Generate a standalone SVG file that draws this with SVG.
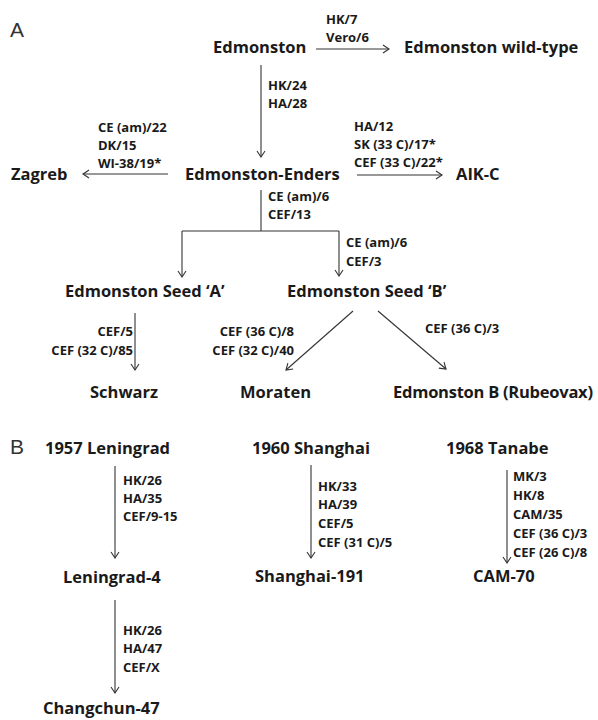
<svg xmlns="http://www.w3.org/2000/svg" width="598" height="720" viewBox="0 0 598 720">
<style>
.n{font-family:"Open Sans","Liberation Sans",sans-serif;font-weight:bold;font-size:16.5px;fill:#1a1a1a}
.l{font-family:"Open Sans","Liberation Sans",sans-serif;font-weight:bold;font-size:13px;fill:#1a1a1a}
.p{font-family:"Liberation Sans",Arial,sans-serif;font-size:21px;fill:#333}
.c{stroke:#333;stroke-width:1.1;fill:none}
.r{text-anchor:end}
</style>
<defs>
<marker id="ah" markerUnits="userSpaceOnUse" viewBox="-8 -5 10 10" markerWidth="10" markerHeight="10" refX="0" refY="0" orient="auto">
<path d="M-6,-4 L0,0 L-6,4" fill="none" stroke="#333" stroke-width="1.1"/>
</marker>
</defs>
<rect width="598" height="720" fill="#fff"/>
<text class="p" x="10" y="37">A</text>
<text class="p" x="10" y="454">B</text>

<g id="nodes">
<g id="edmonston"><text class="n" x="213" y="53">Edmonston</text></g>
<g id="edmonston-wt"><text class="n" x="404" y="53">Edmonston wild-type</text></g>
<g id="edmonston-enders"><text class="n" x="185" y="180">Edmonston-Enders</text></g>
<g id="zagreb"><text class="n" x="11" y="180">Zagreb</text></g>
<g id="aikc"><text class="n" x="456" y="180">AIK-C</text></g>
<g id="seedA"><text class="n" x="65" y="297">Edmonston Seed ‘A’</text></g>
<g id="seedB"><text class="n" x="287" y="297">Edmonston Seed ‘B’</text></g>
<g id="schwarz"><text class="n" x="90" y="398">Schwarz</text></g>
<g id="moraten"><text class="n" x="240" y="398">Moraten</text></g>
<g id="edmonstonB"><text class="n" x="393" y="398" textLength="200" lengthAdjust="spacing">Edmonston B (Rubeovax)</text></g>
<g id="leningrad1957"><text class="n" x="45" y="454">1957 Leningrad</text></g>
<g id="leningrad4"><text class="n" x="63" y="583">Leningrad-4</text></g>
<g id="changchun"><text class="n" x="43" y="714">Changchun-47</text></g>
<g id="shanghai1960"><text class="n" x="252" y="454">1960 Shanghai</text></g>
<g id="shanghai191"><text class="n" x="255" y="582">Shanghai-191</text></g>
<g id="tanabe"><text class="n" x="446" y="454">1968 Tanabe</text></g>
<g id="cam70"><text class="n" x="473" y="582">CAM-70</text></g>
</g>

<g id="connectors">
<path class="c" marker-end="url(#ah)" d="M316,49 H389"/>
<text class="l" x="326" y="24">HK/7</text>
<text class="l" x="326" y="42">Vero/6</text>

<path class="c" marker-end="url(#ah)" d="M261,65 V157"/>
<text class="l" x="268" y="90">HK/24</text>
<text class="l" x="268" y="108">HA/28</text>

<path class="c" marker-end="url(#ah)" d="M168,174 H83"/>
<text class="l" x="98" y="132">CE (am)/22</text>
<text class="l" x="98" y="150">DK/15</text>
<text class="l" x="98" y="168">WI-38/19*</text>

<path class="c" marker-end="url(#ah)" d="M357,175 H442"/>
<text class="l" x="354" y="131">HA/12</text>
<text class="l" x="354" y="149">SK (33 C)/17*</text>
<text class="l" x="354" y="167">CEF (33 C)/22*</text>

<path class="c" d="M261,190 V231 M182,231 H339"/>
<path class="c" marker-end="url(#ah)" d="M182,231 V277"/>
<path class="c" marker-end="url(#ah)" d="M339,231 V276"/>
<text class="l" x="268" y="201">CE (am)/6</text>
<text class="l" x="268" y="219">CEF/13</text>
<text class="l" x="346" y="247">CE (am)/6</text>
<text class="l" x="346" y="266">CEF/3</text>

<path class="c" marker-end="url(#ah)" d="M135,313 V370"/>
<text class="l r" x="133" y="336">CEF/5</text>
<text class="l r" x="133" y="355">CEF (32 C)/85</text>

<path class="c" marker-end="url(#ah)" d="M353,311 L286,370"/>
<text class="l r" x="294" y="336">CEF (36 C)/8</text>
<text class="l r" x="294" y="355">CEF (32 C)/40</text>

<path class="c" marker-end="url(#ah)" d="M378,311 L446,369"/>
<text class="l" x="425" y="333">CEF (36 C)/3</text>

<path class="c" marker-end="url(#ah)" d="M115,466 V558"/>
<text class="l" x="123" y="485">HK/26</text>
<text class="l" x="123" y="503">HA/35</text>
<text class="l" x="123" y="521">CEF/9-15</text>

<path class="c" marker-end="url(#ah)" d="M115,600 V693"/>
<text class="l" x="123" y="635">HK/26</text>
<text class="l" x="123" y="653">HA/47</text>
<text class="l" x="123" y="672">CEF/X</text>

<path class="c" marker-end="url(#ah)" d="M311,465 V558"/>
<text class="l" x="318" y="491">HK/33</text>
<text class="l" x="318" y="509">HA/39</text>
<text class="l" x="318" y="528">CEF/5</text>
<text class="l" x="318" y="547">CEF (31 C)/5</text>

<path class="c" marker-end="url(#ah)" d="M507,470 V563"/>
<text class="l" x="513" y="481">MK/3</text>
<text class="l" x="513" y="500">HK/8</text>
<text class="l" x="513" y="519">CAM/35</text>
<text class="l" x="513" y="538">CEF (36 C)/3</text>
<text class="l" x="513" y="557">CEF (26 C)/8</text>
</g>
</svg>
